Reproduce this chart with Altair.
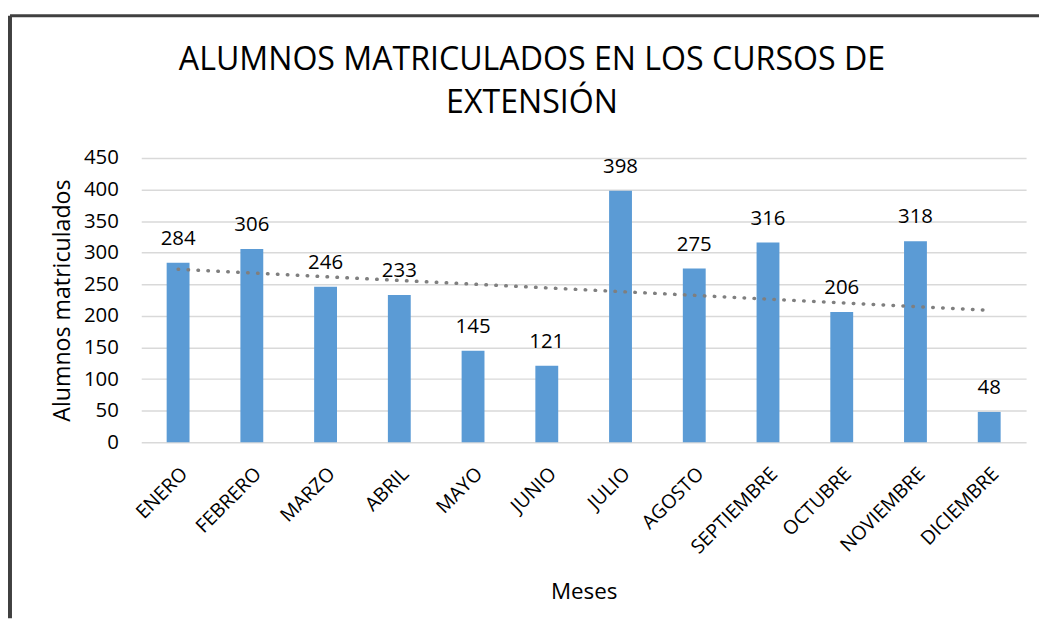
import altair as alt
import pandas as pd

meses = ["ENERO", "FEBRERO", "MARZO", "ABRIL", "MAYO", "JUNIO", "JULIO",
         "AGOSTO", "SEPTIEMBRE", "OCTUBRE", "NOVIEMBRE", "DICIEMBRE"]
alumnos = [284, 306, 246, 233, 145, 121, 398, 275, 316, 206, 318, 48]
indice = list(range(len(meses)))
titulo = ["ALUMNOS MATRICULADOS EN LOS CURSOS DE", "EXTENSIÓN"]
y_ticks = [0, 50, 100, 150, 200, 250, 300, 350, 400, 450]

FONT = "Open Sans"
df = pd.DataFrame({"mes": meses, "valor": alumnos, "idx": indice})

x_enc = alt.X("mes:N", sort=meses,
              scale=alt.Scale(paddingInner=0.69, paddingOuter=0.345),
              axis=alt.Axis(title="Meses", labelAngle=-45, labelAlign="right",
                            labelBaseline="top", labelPadding=22, labelOffset=0,
                            labelFontSize=19.5, labelFont=FONT, labelColor="#000000",
                            labelOverlap=False,
                            ticks=False, tickSize=0, domain=False, grid=False,
                            titleFont=FONT, titleFontSize=22.5, titleFontWeight="normal",
                            titleColor="#000000", titleBaseline="alphabetic",
                            titleY=157, labelLimit=300))
y_enc = alt.Y("valor:Q",
              scale=alt.Scale(domain=[0, 450], nice=False),
              axis=alt.Axis(title="Alumnos matriculados", values=y_ticks,
                            labelFont=FONT, labelFontSize=20.5, labelColor="#000000",
                            labelOverlap=False,
                            labelPadding=23, ticks=False, tickSize=0, domain=False,
                            grid=True, gridColor="#D9D9D9", gridWidth=1.5,
                            titleFont=FONT, titleFontSize=23.3, titleFontWeight="normal",
                            titleColor="#000000", titleBaseline="alphabetic",
                            titleX=-72, titleY=143))

base = alt.Chart(df)

bars = base.mark_bar(color="#5B9BD5").encode(x=x_enc, y=y_enc)

labels = base.mark_text(font=FONT, fontSize=20.5, color="#000000",
                        baseline="alphabetic", dy=-18).encode(
    x=x_enc, y=y_enc, text="valor:Q")

arr_expr = "[" + ",".join("'" + m + "'" for m in meses) + "][datum.idx]"
trend = base.transform_regression("idx", "valor").transform_calculate(
    mes=arr_expr
).mark_line(color="#7F7F7F", strokeWidth=3.5, strokeDash=[0.5, 9.5],
            strokeCap="round").encode(x=x_enc, y=y_enc)

title_mark = alt.Chart(pd.DataFrame({"t": [0]})).mark_text(
    font=FONT, fontSize=32.3, color="#000000", align="center",
    baseline="alphabetic", lineHeight=43
).encode(x=alt.value(393), y=alt.value(-88), text=alt.value(titulo))

frame_left = alt.Chart(pd.DataFrame({"t": [0]})).mark_rule(
    color="#404040", strokeWidth=4
).encode(x=alt.value(-132), y=alt.value(-143), y2=alt.value(463))
frame_top = alt.Chart(pd.DataFrame({"t": [0]})).mark_rule(
    color="#404040", strokeWidth=3
).encode(x=alt.value(-132), x2=alt.value(903), y=alt.value(-143))

chart = alt.layer(bars, trend, labels, title_mark, frame_left, frame_top).properties(
    width=890, height=286,
    padding={"left": 0, "top": 4, "right": 0, "bottom": 0},
    background="#FFFFFF"
).configure_view(stroke=None)

chart.save("out.html", embed_options={"renderer": "svg", "actions": False})
